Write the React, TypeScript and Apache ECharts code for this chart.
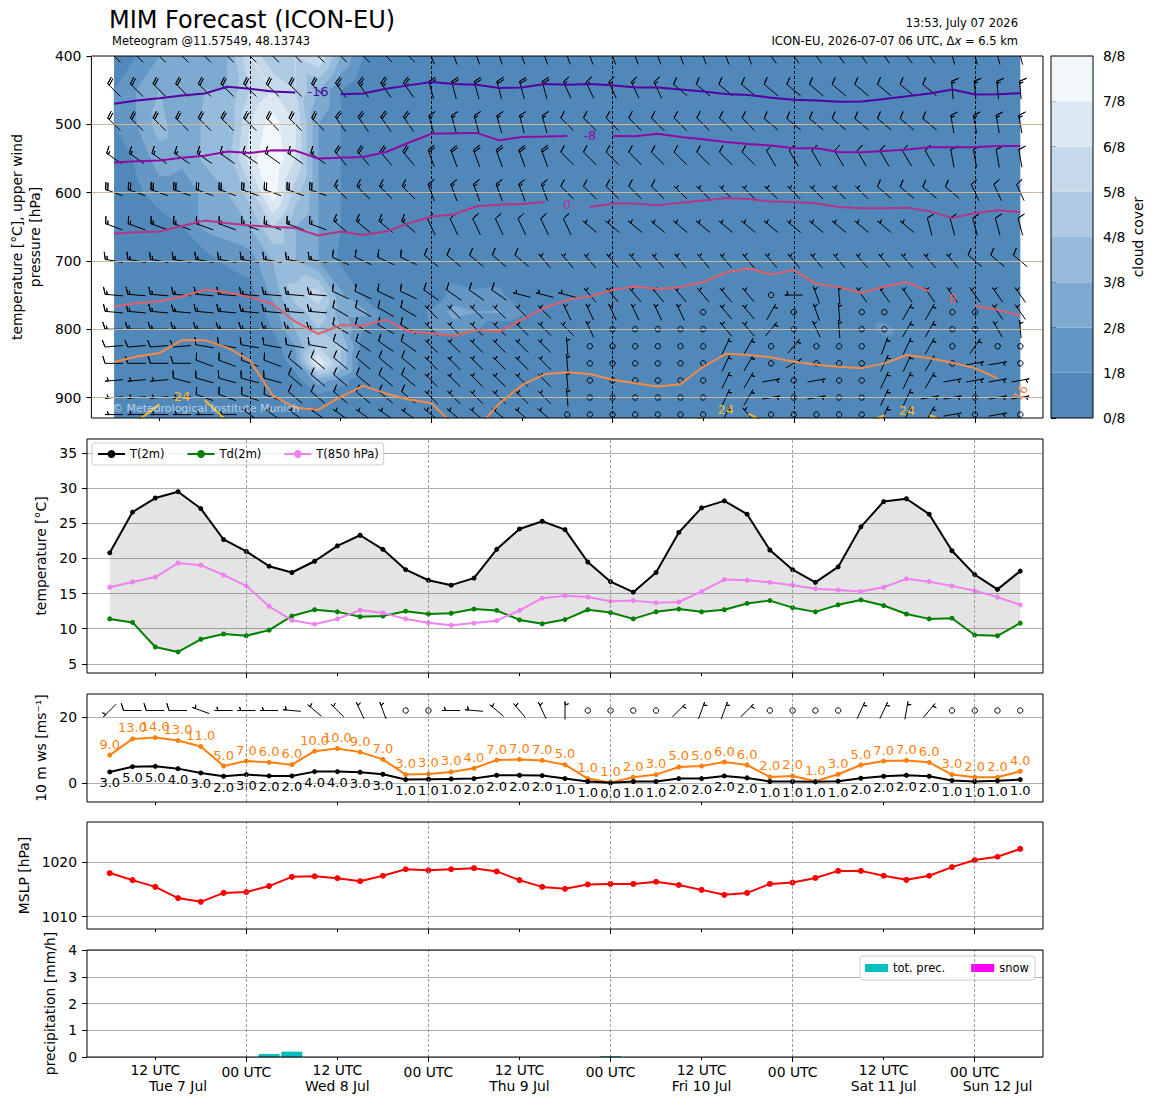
import React, { useEffect, useRef } from 'react';
import * as echarts from 'echarts';

const FONT = 'DejaVu Sans';

// forecast hours since 2026-07-07 00 UTC (3-hourly, 06 UTC Jul 7 .. 06 UTC Jul 12)
const TIMES = [6, 9, 12, 15, 18, 21, 24, 27, 30, 33, 36, 39, 42, 45, 48, 51, 54, 57, 60, 63, 66, 69, 72, 75, 78, 81, 84, 87, 90, 93, 96, 99, 102, 105, 108, 111, 114, 117, 120, 123, 126];
const MIDNIGHT = [24, 48, 72, 96, 120];
const NOON = [12, 36, 60, 84, 108];
const DAY_POS = [15, 36, 60, 84, 108, 123];
const DAY_NAMES = ['Tue 7 Jul', 'Wed 8 Jul', 'Thu 9 Jul', 'Fri 10 Jul', 'Sat 11 Jul', 'Sun 12 Jul'];

const P_TOP = 400;
const P_BOTTOM = 930;
const P_TICKS = [400, 500, 600, 700, 800, 900];
const P_GRID = [500, 600, 700, 800, 900];
const UPPER_LEVELS = [400, 450, 500, 550, 600, 650, 700, 750, 775, 800, 825, 850, 875, 900, 925];

// cloud cover in oktas, one row per level
const CLOUD = [
  [0, 1, 2, 2, 2, 3, 6, 4, 5, 6, 3, 1, 0, 0, 0, 0, 0, 0, 0, 0, 0, 0, 0, 0, 0, 0, 0, 0, 0, 0, 0, 0, 0, 0, 0, 0, 0, 0, 0, 0, 0],
  [1, 2, 3, 2, 3, 3, 5, 6, 5, 3, 1, 0, 0, 0, 0, 0, 0, 0, 0, 0, 0, 0, 0, 0, 0, 0, 0, 0, 0, 0, 0, 0, 0, 0, 0, 0, 0, 0, 0, 0, 0],
  [1, 2, 3.5, 2, 3.2, 3, 6, 7.5, 6, 2, 1, 0, 0, 0, 0, 0, 0, 0, 0, 0, 0, 0, 0, 0, 0, 0, 0, 0, 0, 0, 0, 0, 0, 0, 0, 0, 0, 0, 0, 0, 0],
  [0, 1.2, 2.5, 2.2, 3.2, 3.5, 6.5, 8, 6, 2, 1, 0, 0, 0, 0, 0, 0, 0, 0, 0, 0, 0, 0, 0, 0, 0, 0, 0, 0, 0, 0, 0, 0, 0, 0, 0, 0, 0, 0, 0, 0],
  [0, 0.8, 1.5, 1.5, 2.2, 3, 4.5, 7.6, 4.5, 2, 1, 0, 0, 0, 0, 0, 0, 0, 0, 0, 0, 0, 0, 0, 0, 0, 0, 0, 0, 0, 0, 0, 0, 0, 0, 0, 0, 0, 0, 0, 0],
  [0, 0, 0.5, 1, 2.2, 2.5, 3, 5, 3, 2, 1, 0, 0, 0, 0, 0, 0, 0, 0, 0, 0, 0, 0, 0, 0, 0, 0, 0, 0, 0, 0, 0, 0, 0, 0, 0, 0, 0, 0, 0, 0],
  [0, 0, 0, 0, 0.5, 1.2, 1.5, 3, 3, 2, 0.8, 0, 0, 0, 0, 0, 0, 0, 0, 0, 0, 0, 0, 0, 0, 0, 0, 0, 0, 0, 0, 0, 0, 0, 0, 0, 0, 0, 0, 0, 0],
  [0, 0, 0, 0, 0, 0, 0.5, 2.2, 4.5, 5.5, 2.2, 0.8, 0.3, 0, 0, 1.5, 1.2, 1.3, 0, 0, 0, 0, 0, 0, 0, 0, 0, 0, 0, 0, 0, 0, 0, 0, 0, 0, 0, 0, 0, 0, 0],
  [0, 0, 0, 0, 0, 0, 0, 1.5, 3.5, 4.5, 2.5, 2.3, 0.5, 0, 1.2, 2.3, 2, 2.1, 1.2, 0, 0, 0, 0, 0, 0, 0, 0, 0, 0, 0, 0, 0, 0, 0, 0, 0, 0, 0, 0, 0, 0],
  [0, 0, 0, 0, 0, 0, 0, 1, 3, 4, 3, 1, 0, 0, 1.1, 1.6, 1.1, 0, 0, 0, 0, 0, 0, 0, 0, 0, 0, 0, 0, 0, 0, 0, 0, 0, 1.6, 0, 0, 0, 0, 0, 0],
  [0, 0, 0, 0, 0, 0, 0, 0.5, 2, 5, 4, 0.5, 0, 0, 0, 0, 0, 0, 0, 0, 0, 0, 0, 0, 0, 0, 0, 0, 0, 0, 0, 0, 0, 0, 0, 0, 0, 0, 0, 0, 0],
  [0, 0, 0, 0, 0, 0, 0, 0, 1.5, 7, 4, 0, 0, 0, 0, 0, 0, 0, 0, 0, 0, 0, 0, 0, 0, 0, 0, 0, 0, 0, 0, 0, 0, 0, 0, 0, 0, 0, 0, 0, 0],
  [0, 0, 0, 0, 0, 0, 0, 0, 0.5, 2.5, 1.5, 0, 0, 0, 0, 0, 0, 0, 0, 0, 0, 0, 0, 0, 0, 0, 0, 0, 0, 0, 0, 0, 0, 0, 0, 0, 0, 0, 0, 0, 0],
  [0, 0, 0, 0, 0, 0, 0, 0, 0, 0.5, 0, 0, 0, 0, 0, 0, 0, 0, 0, 0, 0, 0, 0, 0, 0, 0, 0, 0, 0, 0, 0, 0, 0, 0, 0, 0, 0, 0, 0, 0, 0],
  [0, 0, 0, 0, 0, 0, 0, 0, 0, 0, 0, 0, 0, 0, 0, 0, 0, 0, 0, 0, 0, 0, 0, 0, 0, 0, 0, 0, 0, 0, 0, 0, 0, 0, 0, 0, 0, 0, 0, 0, 0],
];

// upper wind direction (deg, from) and speed (kt), one row per level
const UDIR = [
  [315, 315, 315, 315, 315, 315, 315, 315, 315, 315, 315, 315, 315, 315, 340, 340, 340, 340, 340, 340, 340, 340, 340, 340, 340, 340, 340, 340, 340, 325, 325, 325, 325, 325, 325, 325, 325, 345, 345, 345, 345],
  [315, 315, 315, 315, 315, 315, 315, 315, 315, 315, 325, 325, 325, 325, 345, 345, 345, 345, 345, 345, 335, 335, 335, 335, 335, 310, 310, 310, 310, 310, 310, 310, 310, 310, 310, 310, 310, 355, 355, 355, 355],
  [315, 315, 315, 315, 315, 315, 315, 315, 315, 315, 325, 325, 325, 325, 345, 345, 345, 345, 345, 345, 315, 315, 315, 315, 315, 315, 315, 315, 315, 310, 310, 310, 310, 310, 310, 310, 310, 350, 350, 350, 350],
  [305, 305, 305, 305, 305, 305, 305, 305, 305, 305, 320, 320, 320, 320, 340, 340, 340, 340, 340, 340, 315, 315, 315, 315, 315, 315, 315, 315, 315, 330, 330, 330, 330, 330, 330, 330, 330, 350, 350, 350, 350],
  [290, 290, 290, 290, 290, 290, 290, 290, 290, 290, 315, 315, 315, 315, 340, 340, 340, 340, 340, 340, 315, 315, 315, 315, 315, 315, 315, 315, 315, 315, 315, 315, 315, 315, 310, 310, 310, 310, 335, 335, 335],
  [290, 290, 290, 290, 290, 290, 290, 290, 290, 290, 310, 310, 310, 310, 335, 335, 335, 335, 335, 335, 335, 310, 310, 310, 310, 310, 310, 310, 310, 310, 310, 310, 310, 310, 310, 310, 345, 345, 345, 345, 345],
  [280, 280, 280, 280, 280, 280, 280, 280, 280, 280, 295, 295, 295, 295, 310, 310, 310, 310, 310, 320, 320, 320, 320, 320, 320, 320, 320, 320, 320, 320, 320, 320, 320, 320, 320, 320, 320, 320, 310, 310, 310],
  [275, 275, 275, 275, 275, 275, 275, 275, 275, 275, 295, 295, 295, 295, 305, 305, 305, 305, 285, 285, 285, 320, 320, 320, 320, 320, 320, 320, 320, 0, 270, 340, 355, 325, 325, 325, 325, 325, 325, 325, 325],
  [275, 275, 275, 275, 275, 275, 275, 275, 275, 275, 300, 300, 300, 300, 315, 315, 315, 315, 315, 315, 335, 335, 335, 335, 335, 335, 0, 320, 320, 30, 0, 340, 355, 0, 0, 30, 30, 0, 0, 325, 325],
  [270, 270, 270, 270, 270, 270, 270, 270, 270, 270, 300, 300, 300, 300, 315, 315, 315, 315, 315, 315, 315, 335, 0, 0, 0, 0, 0, 320, 320, 40, 0, 335, 355, 0, 0, 30, 30, 0, 0, 330, 355],
  [265, 265, 265, 265, 280, 280, 280, 280, 280, 280, 305, 305, 305, 305, 315, 315, 315, 315, 315, 315, 355, 0, 0, 0, 0, 0, 0, 25, 30, 0, 40, 0, 0, 0, 20, 25, 30, 0, 35, 0, 0],
  [270, 270, 270, 270, 290, 290, 290, 290, 310, 310, 310, 310, 310, 310, 315, 315, 315, 315, 315, 315, 355, 0, 0, 0, 0, 0, 0, 25, 30, 0, 60, 0, 0, 0, 25, 25, 30, 0, 80, 80, 0],
  [265, 265, 265, 285, 285, 285, 285, 285, 310, 310, 310, 310, 310, 310, 315, 315, 315, 315, 315, 315, 355, 0, 0, 0, 0, 0, 0, 25, 30, 80, 0, 80, 0, 0, 25, 25, 30, 80, 80, 80, 80],
  [265, 265, 265, 265, 290, 290, 290, 290, 310, 310, 310, 310, 310, 310, 315, 315, 315, 315, 315, 315, 355, 0, 0, 0, 0, 0, 0, 25, 30, 80, 0, 80, 0, 0, 25, 25, 80, 80, 0, 80, 80],
  [270, 270, 270, 270, 270, 270, 305, 305, 305, 305, 305, 305, 305, 305, 310, 310, 310, 310, 310, 310, 0, 0, 0, 0, 0, 0, 0, 25, 320, 0, 0, 0, 0, 0, 25, 25, 30, 80, 0, 80, 0],
];
const USPD = [
  [20, 20, 20, 20, 20, 20, 20, 20, 20, 20, 20, 20, 20, 20, 20, 20, 20, 20, 20, 20, 15, 15, 15, 15, 15, 15, 15, 15, 15, 15, 15, 15, 15, 15, 15, 15, 15, 15, 15, 15, 15],
  [20, 20, 20, 20, 20, 20, 20, 20, 20, 20, 25, 25, 25, 25, 20, 20, 20, 20, 20, 20, 15, 15, 15, 15, 15, 10, 10, 10, 10, 10, 10, 10, 10, 10, 10, 10, 10, 15, 15, 15, 15],
  [20, 20, 20, 20, 20, 20, 20, 20, 20, 20, 20, 20, 20, 20, 15, 15, 15, 15, 15, 15, 10, 10, 10, 10, 10, 10, 10, 10, 10, 10, 10, 10, 10, 10, 10, 10, 10, 15, 15, 15, 15],
  [15, 15, 15, 15, 15, 15, 15, 15, 15, 15, 20, 20, 20, 20, 20, 20, 20, 20, 20, 20, 10, 10, 10, 10, 10, 10, 10, 10, 10, 10, 10, 10, 10, 10, 10, 10, 10, 10, 10, 10, 10],
  [20, 20, 20, 20, 20, 20, 20, 20, 20, 20, 15, 15, 15, 15, 15, 15, 15, 15, 15, 15, 10, 10, 10, 10, 10, 5, 5, 5, 5, 5, 5, 5, 5, 5, 10, 10, 10, 10, 10, 10, 10],
  [15, 15, 15, 15, 15, 15, 15, 15, 15, 15, 15, 15, 15, 15, 10, 10, 10, 10, 10, 10, 10, 5, 5, 5, 5, 5, 5, 5, 5, 5, 5, 5, 5, 5, 5, 5, 10, 10, 10, 10, 10],
  [15, 15, 15, 15, 15, 15, 15, 15, 15, 15, 10, 10, 10, 10, 10, 10, 10, 10, 10, 5, 5, 5, 5, 5, 5, 5, 5, 5, 5, 5, 5, 5, 5, 5, 5, 5, 5, 5, 10, 10, 10],
  [15, 15, 15, 15, 15, 15, 15, 15, 15, 15, 10, 10, 10, 10, 10, 10, 10, 10, 5, 5, 5, 5, 5, 5, 5, 5, 5, 5, 5, 0, 5, 5, 5, 5, 5, 5, 5, 5, 5, 5, 5],
  [15, 15, 15, 15, 15, 15, 15, 15, 15, 15, 10, 10, 10, 10, 5, 5, 5, 5, 5, 5, 5, 5, 5, 5, 5, 5, 0, 5, 5, 5, 0, 5, 5, 0, 0, 5, 5, 0, 0, 5, 5],
  [15, 15, 15, 15, 15, 15, 15, 15, 15, 15, 10, 10, 10, 10, 5, 5, 5, 5, 5, 5, 5, 5, 0, 0, 0, 0, 0, 5, 5, 5, 0, 5, 5, 0, 0, 5, 5, 0, 0, 5, 5],
  [10, 10, 10, 10, 10, 10, 10, 10, 10, 10, 10, 10, 10, 10, 5, 5, 5, 5, 5, 5, 5, 0, 0, 0, 0, 0, 0, 5, 5, 0, 5, 0, 0, 0, 5, 5, 5, 0, 5, 0, 0],
  [10, 10, 10, 10, 10, 10, 10, 10, 10, 10, 10, 10, 10, 10, 5, 5, 5, 5, 5, 5, 5, 0, 0, 0, 0, 0, 0, 5, 5, 0, 5, 0, 0, 0, 5, 5, 5, 0, 5, 5, 0],
  [5, 5, 5, 10, 10, 10, 10, 10, 10, 10, 10, 10, 10, 10, 5, 5, 5, 5, 5, 5, 5, 0, 0, 0, 0, 0, 0, 5, 5, 5, 0, 5, 0, 0, 5, 5, 5, 5, 5, 5, 5],
  [5, 5, 5, 5, 10, 10, 10, 10, 10, 10, 10, 10, 10, 10, 5, 5, 5, 5, 5, 5, 5, 0, 0, 0, 0, 0, 0, 5, 5, 5, 0, 5, 0, 0, 5, 5, 5, 5, 0, 5, 5],
  [5, 5, 5, 5, 5, 5, 5, 5, 5, 5, 5, 5, 5, 5, 5, 5, 5, 5, 5, 5, 0, 0, 0, 0, 0, 0, 0, 5, 5, 0, 0, 0, 0, 0, 5, 5, 5, 5, 0, 5, 0],
];

// isotherms: pressure (hPa) at each time, null = gap / out of view
const ISO_M16 = [470, 465, 462, 458, 455, 445, 448, 452, 453.5, null, 456, 455, 448, 443, 438, 441, 442, 447, 446, 441, 442, 441, 443, 446, 446, 449, 452, 455.5, 457, 461, 464, 465, 467, 466.7, 462.8, 459, 455, 449, 456.5, 456, 454.5];
const ISO_M8 = [556, 554, 553, 549, 546, 540, 542, 538, 538.5, 550, 549, 548, 540.5, 527, 514, 513, 512.6, 523.5, 518.5, 518, 517, null, 517, 517.5, 514, 518.5, 522, 526, 529, 531, 535, 535, 540.5, 541, 539, 537, 533.7, 533.7, 533.7, 531.7, 531.7];
const ISO_0 = [660, 658, 657, 649, 641, 645, 648, 650, 652, 662.7, 657, 662, 657, 645, 635, 632, 620, 617.7, 616.7, 613.8, null, 621, 616, 616, 618.7, 615, 611.4, 608, 609.4, 613, 613.8, 616, 621, 623, 623, 622, 627.5, 637, 630, 626, 628.5];
const ISO_8 = [766.7, 762, 759, 752, 742.4, 745.8, 753, 763, 789, 807, 794, 795, 786, 803.5, 806, 810, 801, 803.5, 786, 769, 757, 752, 742.4, 737.5, 741, 738.4, 731, 717, 711, 720, 713.5, 733.6, 738.4, 747, 737.5, 731, 745, null, 766, 771.7, 780];
const ISO_16 = [848, 840, 835, 816, 816, 827, 846, 897, 915, 918, 899, 883, 894, 903, 908, 940, 945, 909, 882, 866, 863, 865.5, 874, 879, 884, 880.6, 855, 836, 837.7, 841, 847.5, 852, 855, 857, 850, 837.7, 842.5, 849, 857, 872, null];
const ISO_24 = [null, 935, 910, null, 904, 935, null, null, null, null, null, null, null, null, null, null, null, null, null, null, null, null, null, null, null, 940, 930, null, 924, 940, null, null, null, 940, 926, null, 926, 940, null, null, null];
const ISO_LINES = [ISO_M16, ISO_M8, ISO_0, ISO_8, ISO_16, ISO_24];
const ISO_COLORS = ['#5402a3', '#8e0ca4', '#b83289', '#e0606a', '#f48a49', '#fbb62e'];
const ISO_LABEL_POS = [[33, 452], [69, 517], [66, 617], [117, 755], [126, 893], [15, 899], [87, 918], [111, 919]];
const ISO_LABEL_TEXT = ['-16', '-8', '0', '8', '16', '24', '24', '24'];
const ISO_LABEL_COLOR = [0, 1, 2, 3, 4, 5, 5, 5];
const ISO_LABEL_ROT = [0, 0, 0, 0, 1.0, 0, 0, 0];

const CC_LEVELS = [0, 1, 2, 3, 4, 5, 6, 7];
const CC_COLORS = ['#5088ba', '#6597c5', '#7eaad1', '#97bbdb', '#aecae3', '#c5d9eb', '#dce8f3', '#f2f7fb'];

// surface
const T2M = [20.8, 26.6, 28.6, 29.5, 27.1, 22.7, 21.0, 18.9, 18.0, 19.6, 21.8, 23.3, 21.3, 18.4, 16.9, 16.2, 17.2, 21.3, 24.2, 25.3, 24.1, 19.5, 16.7, 15.2, 18.0, 23.7, 27.2, 28.2, 26.3, 21.2, 18.4, 16.6, 18.8, 24.5, 28.1, 28.5, 26.3, 21.1, 17.7, 15.6, 18.2];
const TD2M = [11.4, 10.9, 7.4, 6.7, 8.5, 9.25, 9.0, 9.8, 11.8, 12.7, 12.4, 11.7, 11.8, 12.5, 12.1, 12.2, 12.8, 12.6, 11.25, 10.7, 11.3, 12.7, 12.3, 11.4, 12.4, 12.8, 12.4, 12.7, 13.6, 14.0, 13.0, 12.4, 13.4, 14.1, 13.3, 12.1, 11.4, 11.5, 9.1, 9.0, 10.8];
const T850 = [15.9, 16.65, 17.35, 19.35, 19.05, 17.65, 16.1, 13.2, 11.2, 10.65, 11.4, 12.65, 12.25, 11.4, 10.85, 10.5, 10.8, 11.15, 12.6, 14.35, 14.7, 14.5, 13.9, 14.0, 13.7, 13.8, 15.3, 17.0, 16.9, 16.6, 16.2, 15.7, 15.5, 15.3, 15.9, 17.1, 16.7, 16.1, 15.4, 14.5, 13.4];

const WS = [3.4, 5.0, 5.1, 4.4, 3.1, 2.1, 2.6, 2.2, 2.2, 3.5, 3.5, 3.3, 2.7, 1.1, 1.2, 1.3, 1.4, 2.4, 2.4, 2.3, 1.4, 0.5, 0.1, 0.5, 0.5, 1.4, 1.4, 2.2, 1.6, 0.5, 0.5, 0.4, 0.6, 1.5, 2.1, 2.4, 2.1, 0.8, 0.5, 0.7, 1.1];
const WS_LABEL = [3, 5, 5, 4, 3, 2, 3, 2, 2, 4, 4, 3, 3, 1, 1, 1, 2, 2, 2, 2, 1, 1, 0, 1, 1, 2, 2, 2, 2, 1, 1, 1, 1, 2, 2, 2, 2, 1, 1, 1, 1];
const GUST = [8.5, 13.4, 13.8, 12.9, 11.1, 5.2, 6.7, 6.3, 5.6, 9.7, 10.5, 9.4, 7.2, 2.6, 2.8, 3.4, 4.5, 7.0, 7.2, 6.9, 5.6, 1.4, 0.2, 1.8, 2.6, 4.9, 5.2, 6.4, 5.5, 1.9, 2.2, 0.6, 2.7, 5.5, 6.7, 6.9, 6.3, 2.6, 1.8, 1.8, 3.6];
const GUST_LABEL = [9, 13, 14, 13, 11, 5, 7, 6, 6, 10, 10, 9, 7, 3, 3, 3, 4, 7, 7, 7, 5, 1, 1, 2, 3, 5, 5, 6, 6, 2, 2, 1, 3, 5, 7, 7, 6, 3, 2, 2, 4];
const SURF_BARB_Y = 22;
const SDIR = [225, 270, 270, 270, 290, 270, 270, 270, 275, 310, 315, 335, 340, 0, 0, 270, 275, 310, 320, 335, 360, 0, 0, 0, 0, 45, 20, 20, 45, 0, 0, 0, 0, 25, 25, 10, 40, 0, 0, 0, 0];
const SSPD = [5, 10, 10, 10, 5, 5, 5, 5, 5, 5, 5, 5, 5, 0, 0, 5, 5, 5, 5, 5, 5, 0, 0, 0, 0, 5, 5, 5, 5, 0, 0, 0, 0, 5, 5, 5, 5, 0, 0, 0, 0];

const MSLP = [1018.0, 1016.7, 1015.45, 1013.4, 1012.7, 1014.35, 1014.5, 1015.6, 1017.3, 1017.4, 1017.05, 1016.5, 1017.5, 1018.7, 1018.5, 1018.7, 1018.9, 1018.3, 1016.7, 1015.45, 1015.1, 1015.9, 1016.0, 1016.0, 1016.4, 1015.8, 1014.9, 1014.0, 1014.35, 1016.0, 1016.25, 1017.1, 1018.4, 1018.4, 1017.5, 1016.75, 1017.5, 1019.1, 1020.4, 1021.0, 1022.45];
const PRECIP = [0, 0, 0, 0, 0, 0, 0, 0.11, 0.2, 0, 0, 0, 0, 0, 0, 0, 0, 0, 0, 0, 0, 0, 0.03, 0, 0, 0, 0, 0, 0, 0, 0, 0, 0, 0, 0, 0, 0, 0, 0, 0, 0];
const SNOW = [0, 0, 0, 0, 0, 0, 0, 0, 0, 0, 0, 0, 0, 0, 0, 0, 0, 0, 0, 0, 0, 0, 0, 0, 0, 0, 0, 0, 0, 0, 0, 0, 0, 0, 0, 0, 0, 0, 0, 0, 0];

const BARB_L = 18;

function barbElements(cx: number, cy: number, dir: number, spd: number, L: number) {
  if (spd < 2.5) {
    return [{ type: 'circle', shape: { cx, cy, r: 0.15 * L }, style: { fill: 'none', stroke: '#000', lineWidth: 1 } }];
  }
  const th = (dir * Math.PI) / 180;
  const ux = Math.sin(th), uy = -Math.cos(th);
  const rx = Math.cos(th), ry = Math.sin(th);
  const H = 0.4 * L, W = 0.25 * L, S = 0.125 * L;
  const P = (d: number, h: number) => [cx + ux * d + rx * h, cy + uy * d + ry * h];
  let mag = 5 * Math.round(spd / 5);
  const nFlag = Math.floor(mag / 50); mag -= 50 * nFlag;
  const nBarb = Math.floor(mag / 10); mag -= 10 * nBarb;
  const half = mag >= 5;
  const pts: number[][] = [P(-L / 2, 0)];
  const flags: number[][][] = [];
  let off = L;
  for (let k = 0; k < nFlag; k++) {
    if (off !== L) off += S / 2;
    const d = -L / 2 + off;
    pts.push(P(d, 0));
    flags.push([P(d, 0), P(d - W / 2, H), P(d - W, 0)]);
    pts.push(P(d - W, 0));
    off -= W + S;
  }
  for (let k = 0; k < nBarb; k++) {
    const d = -L / 2 + off;
    pts.push(P(d, 0), P(d + W / 2, H), P(d, 0));
    off -= S;
  }
  if (half) {
    if (off === L) { pts.push(P(L / 2, 0)); off -= 1.5 * S; }
    const d = -L / 2 + off;
    pts.push(P(d, 0), P(d + W / 4, H / 2), P(d, 0));
  }
  const els: any[] = [{ type: 'polyline', shape: { points: pts }, style: { stroke: '#000', fill: 'none', lineWidth: 1 } }];
  flags.forEach((f) => els.push({ type: 'polygon', shape: { points: f }, style: { fill: '#000', stroke: '#000', lineWidth: 1 } }));
  return els;
}

function clipPoly(poly: number[][], thr: number, above: boolean) {
  const out: number[][] = [];
  const n = poly.length;
  for (let k = 0; k < n; k++) {
    const a = poly[k], b = poly[(k + 1) % n];
    const ia = above ? a[2] >= thr : a[2] <= thr;
    const ib = above ? b[2] >= thr : b[2] <= thr;
    if (ia) out.push(a);
    if (ia !== ib) {
      const t = (thr - a[2]) / (b[2] - a[2]);
      out.push([a[0] + t * (b[0] - a[0]), a[1] + t * (b[1] - a[1]), thr]);
    }
  }
  return out;
}

function buildOption() {
  const txt = { fontFamily: FONT, color: '#000' };
  const plain = (v: number) => String(v);
  const grids = [
    { left: 87, top: 56, width: 956, height: 362 },
    { left: 87, top: 439, width: 956, height: 234 },
    { left: 87, top: 694, width: 956, height: 108 },
    { left: 87, top: 822, width: 956, height: 107 },
    { left: 87, top: 950, width: 956, height: 107 },
    { left: 1051, top: 56, width: 42, height: 362 },
  ].map((g) => ({ ...g, show: true, borderColor: '#000', borderWidth: 1, backgroundColor: 'transparent', z: 20 }));

  const xAxes: any[] = [];
  for (let g = 0; g < 5; g++) {
    const bottom = g === 4;
    xAxes.push({
      type: 'value', gridIndex: g, min: 3, max: 129, position: 'bottom',
      axisLine: { show: false }, splitLine: { show: false },
      axisTick: { show: true, customValues: MIDNIGHT, length: 5, lineStyle: { color: '#000', width: 1 } },
      axisLabel: { show: bottom, customValues: MIDNIGHT, formatter: () => '00 UTC', margin: 8, fontSize: 13.9, ...txt },
    });
    xAxes.push({
      type: 'value', gridIndex: g, min: 3, max: 129, position: 'bottom',
      axisLine: { show: false }, splitLine: { show: false },
      axisTick: { show: true, customValues: NOON, length: 3, lineStyle: { color: '#000', width: 1 } },
      axisLabel: { show: bottom, customValues: NOON, formatter: () => '12 UTC', margin: 6, fontSize: 13.9, ...txt },
    });
  }
  xAxes.push({
    type: 'value', gridIndex: 4, min: 3, max: 129, position: 'bottom',
    axisLine: { show: false }, splitLine: { show: false }, axisTick: { show: false },
    axisLabel: { show: true, customValues: DAY_POS, formatter: (v: number) => DAY_NAMES[DAY_POS.indexOf(v)] || '', margin: 22, fontSize: 13.9, ...txt },
  });
  xAxes.push({ type: 'value', gridIndex: 5, min: 0, max: 1, show: false });

  const yCommon = (g: number) => ({
    type: 'value', gridIndex: g,
    axisLine: { show: false },
    axisTick: { show: true, length: 5, lineStyle: { color: '#000' } },
    axisLabel: { fontSize: 13.9, margin: 10, formatter: plain, ...txt },
    splitLine: { show: true, lineStyle: { color: '#b0b0b0', width: 1 } },
    nameLocation: 'middle', nameRotate: 90,
    nameTextStyle: { fontSize: 13.9, ...txt },
  });
  const yAxes: any[] = [
    {
      ...yCommon(0), inverse: true, min: P_TOP, max: P_BOTTOM, interval: 100,
      axisTick: { show: true, length: 5, customValues: P_TICKS, lineStyle: { color: '#000' } },
      axisLabel: { fontSize: 13.9, margin: 10, customValues: P_TICKS, formatter: plain, ...txt },
      splitLine: { show: false },
      name: 'temperature [°C], upper wind\npressure [hPa]', nameGap: 42,
      nameTextStyle: { fontSize: 13.9, lineHeight: 18, ...txt },
    },
    {
      ...yCommon(1), min: 3.7, max: 37, splitNumber: 7,
      axisTick: { show: true, length: 5, customValues: [5, 10, 15, 20, 25, 30, 35], lineStyle: { color: '#000' } },
      axisLabel: { fontSize: 13.9, margin: 10, customValues: [5, 10, 15, 20, 25, 30, 35], formatter: plain, ...txt },
      name: 'temperature [°C]', nameGap: 35,
    },
    {
      ...yCommon(2), min: -5.7, max: 27, splitNumber: 2,
      axisTick: { show: true, length: 5, customValues: [0, 20], lineStyle: { color: '#000' } },
      axisLabel: { fontSize: 13.9, margin: 10, customValues: [0, 20], formatter: plain, ...txt },
      name: '10 m ws [ms⁻¹]', nameGap: 35,
    },
    {
      ...yCommon(3), min: 1007.7, max: 1027.4, splitNumber: 2,
      axisTick: { show: true, length: 5, customValues: [1010, 1020], lineStyle: { color: '#000' } },
      axisLabel: { fontSize: 13.9, margin: 10, customValues: [1010, 1020], formatter: plain, ...txt },
      name: 'MSLP [hPa]', nameGap: 43,
    },
    {
      ...yCommon(4), min: 0, max: 4, interval: 1,
      name: 'precipitation [mm/h]', nameGap: 22.5,
    },
    {
      type: 'value', gridIndex: 5, position: 'right', min: 0, max: 8, interval: 1,
      axisLine: { show: false }, splitLine: { show: false },
      axisTick: { show: true, length: 5, lineStyle: { color: '#000' } },
      axisLabel: { fontSize: 13.9, margin: 10, formatter: (v: number) => `${v}/8`, ...txt },
      name: 'cloud cover', nameLocation: 'middle', nameRotate: 90, nameGap: 38,
      nameTextStyle: { fontSize: 13.9, ...txt },
    },
  ];

  const vLines = (g: number, color: string, width: number, z: number) => ({
    type: 'line', name: 'vl' + g, xAxisIndex: 2 * g, yAxisIndex: g, data: [[TIMES[0], null]], symbol: 'none', z, silent: true,
    markLine: {
      silent: true, symbol: ['none', 'none'], label: { show: false },
      lineStyle: { color, width, type: [3, 2] }, emphasis: { disabled: true },
      data: MIDNIGHT.map((v) => ({ xAxis: v })),
    },
  });

  const upperBarbData: number[][] = [];
  UPPER_LEVELS.forEach((p, j) => TIMES.forEach((h, i) => upperBarbData.push([h, p, UDIR[j][i], USPD[j][i]])));
  const surfBarbData = TIMES.map((h, i) => [h, SURF_BARB_Y, SDIR[i], SSPD[i]]);

  const barbRender = (params: any, api: any) => {
    const c = api.coord([api.value(0), api.value(1)]);
    return { type: 'group', children: barbElements(c[0], c[1], api.value(2), api.value(3), BARB_L) };
  };

  const series: any[] = [
    // ---- top panel
    {
      type: 'custom', name: 'cloudbg', xAxisIndex: 0, yAxisIndex: 0, z: 1, silent: true, clip: true,
      data: [[TIMES[0], TIMES[TIMES.length - 1]]],
      renderItem: (params: any, api: any) => {
        const a = api.coord([api.value(0), P_TOP]);
        const b = api.coord([api.value(1), P_BOTTOM]);
        return { type: 'rect', shape: { x: a[0], y: a[1], width: b[0] - a[0], height: b[1] - a[1] }, style: { fill: CC_COLORS[0] } };
      },
    },
    {
      type: 'custom', name: 'cloud', xAxisIndex: 0, yAxisIndex: 0, z: 1, silent: true, clip: true,
      data: [[TIMES[0], P_TOP]],
      renderItem: (params: any, api: any) => {
        const tris: number[][][] = [];
        for (let j = 0; j < UPPER_LEVELS.length - 1; j++) {
          for (let i = 0; i < TIMES.length - 1; i++) {
            const v = [CLOUD[j][i], CLOUD[j][i + 1], CLOUD[j + 1][i + 1], CLOUD[j + 1][i]];
            if (Math.max(...v) < 1) continue;
            const c = [
              api.coord([TIMES[i], UPPER_LEVELS[j]]), api.coord([TIMES[i + 1], UPPER_LEVELS[j]]),
              api.coord([TIMES[i + 1], UPPER_LEVELS[j + 1]]), api.coord([TIMES[i], UPPER_LEVELS[j + 1]]),
            ];
            const p = c.map((q: number[], n: number) => [q[0], q[1], v[n]]);
            tris.push([p[0], p[1], p[2]], [p[0], p[2], p[3]]);
          }
        }
        const children: any[] = [];
        for (let k = 1; k <= 7; k++) {
          for (const tri of tris) {
            const poly = clipPoly(tri, k, true);
            if (poly.length >= 3) {
              children.push({ type: 'polygon', shape: { points: poly.map((q) => [q[0], q[1]]) }, style: { fill: CC_COLORS[k], stroke: CC_COLORS[k], lineWidth: 0.5 } });
            }
          }
        }
        return { type: 'group', children };
      },
    },
    {
      type: 'line', name: 'pgrid', xAxisIndex: 0, yAxisIndex: 0, data: [[TIMES[0], null]], symbol: 'none', z: 3, silent: true,
      markLine: {
        silent: true, symbol: ['none', 'none'], label: { show: false },
        lineStyle: { color: '#cbb99b', width: 1, type: 'solid' }, emphasis: { disabled: true },
        data: P_GRID.map((v) => ({ yAxis: v })),
      },
    },
    {
      type: 'custom', name: 'upperbarbs', xAxisIndex: 0, yAxisIndex: 0, z: 4, silent: true, clip: true,
      data: upperBarbData, renderItem: barbRender,
    },
    ...ISO_LINES.map((arr, k) => ({
      type: 'line', name: 'iso' + k, xAxisIndex: 0, yAxisIndex: 0, z: 5, silent: true, clip: true,
      symbol: 'none', connectNulls: false,
      lineStyle: { color: ISO_COLORS[k], width: 2 },
      data: TIMES.map((h, i) => [h, arr[i]]),
    })),
    {
      type: 'custom', name: 'isolabels', xAxisIndex: 0, yAxisIndex: 0, z: 6, silent: true,
      data: ISO_LABEL_POS.map((p, k) => [p[0], p[1], k]),
      renderItem: (params: any, api: any) => {
        const k = api.value(2);
        const c = api.coord([api.value(0), api.value(1)]);
        return {
          type: 'text', x: c[0], y: c[1], rotation: ISO_LABEL_ROT[k],
          style: { text: ISO_LABEL_TEXT[k], fill: ISO_COLORS[ISO_LABEL_COLOR[k]], fontSize: 13, fontFamily: FONT, align: 'center', verticalAlign: 'middle' },
        };
      },
    },
    vLines(0, '#000', 1, 5),
    // ---- temperature panel
    vLines(1, '#888', 0.8, 1),
    {
      type: 'custom', name: 'tfill', xAxisIndex: 2, yAxisIndex: 1, z: 1, silent: true,
      data: [[TIMES[0], T2M[0]]],
      renderItem: (params: any, api: any) => {
        const pts: number[][] = [];
        TIMES.forEach((h, i) => pts.push(api.coord([h, T2M[i]])));
        for (let i = TIMES.length - 1; i >= 0; i--) pts.push(api.coord([TIMES[i], TD2M[i]]));
        return { type: 'polygon', shape: { points: pts }, style: { fill: 'rgba(0,0,0,0.105)' } };
      },
    },
    {
      type: 'line', name: 'T(2m)', xAxisIndex: 2, yAxisIndex: 1, z: 4, symbol: 'circle', symbolSize: 5,
      itemStyle: { color: '#000' }, lineStyle: { color: '#000', width: 2 },
      data: TIMES.map((h, i) => [h, T2M[i]]),
    },
    {
      type: 'line', name: 'Td(2m)', xAxisIndex: 2, yAxisIndex: 1, z: 3, symbol: 'circle', symbolSize: 5,
      itemStyle: { color: '#008000' }, lineStyle: { color: '#008000', width: 2 },
      data: TIMES.map((h, i) => [h, TD2M[i]]),
    },
    {
      type: 'line', name: 'T(850 hPa)', xAxisIndex: 2, yAxisIndex: 1, z: 3, symbol: 'circle', symbolSize: 5,
      itemStyle: { color: '#ee82ee' }, lineStyle: { color: '#ee82ee', width: 2 },
      data: TIMES.map((h, i) => [h, T850[i]]),
    },
    // ---- wind panel
    vLines(2, '#888', 0.8, 1),
    {
      type: 'line', name: 'gust', xAxisIndex: 4, yAxisIndex: 2, z: 3, symbol: 'circle', symbolSize: 5,
      itemStyle: { color: '#ff7f0e' }, lineStyle: { color: '#ff7f0e', width: 2 },
      label: { show: true, position: 'top', distance: 2, color: '#ff7f0e', fontSize: 13, fontFamily: FONT, formatter: (p: any) => GUST_LABEL[p.dataIndex].toFixed(1) },
      data: TIMES.map((h, i) => [h, GUST[i]]),
    },
    {
      type: 'line', name: 'ws', xAxisIndex: 4, yAxisIndex: 2, z: 3, symbol: 'circle', symbolSize: 5,
      itemStyle: { color: '#000' }, lineStyle: { color: '#000', width: 2 },
      label: { show: true, position: 'bottom', distance: 2, color: '#000', fontSize: 13, fontFamily: FONT, formatter: (p: any) => WS_LABEL[p.dataIndex].toFixed(1) },
      data: TIMES.map((h, i) => [h, WS[i]]),
    },
    {
      type: 'custom', name: 'surfbarbs', xAxisIndex: 4, yAxisIndex: 2, z: 4, silent: true, clip: true,
      data: surfBarbData, renderItem: barbRender,
    },
    // ---- MSLP
    vLines(3, '#888', 0.8, 1),
    {
      type: 'line', name: 'mslp', xAxisIndex: 6, yAxisIndex: 3, z: 3, symbol: 'circle', symbolSize: 6,
      itemStyle: { color: '#ff0000' }, lineStyle: { color: '#ff0000', width: 2 },
      data: TIMES.map((h, i) => [h, MSLP[i]]),
    },
    // ---- precipitation
    vLines(4, '#888', 0.8, 1),
    {
      type: 'bar', name: 'tot. prec.', xAxisIndex: 8, yAxisIndex: 4, z: 3, barWidth: 21,
      itemStyle: { color: '#00bfbf' },
      data: TIMES.map((h, i) => [h, PRECIP[i]]),
    },
    {
      type: 'bar', name: 'snow', xAxisIndex: 8, yAxisIndex: 4, z: 3, barWidth: 21, barGap: '-100%',
      itemStyle: { color: '#ff00ff' },
      data: TIMES.map((h, i) => [h, SNOW[i]]),
    },
    // ---- colorbar
    {
      type: 'custom', name: 'colorbar', xAxisIndex: 11, yAxisIndex: 5, z: 2, silent: true,
      data: CC_LEVELS.map((k) => [0.5, k]),
      renderItem: (params: any, api: any) => {
        const k = api.value(1);
        const a = api.coord([0, k]);
        const b = api.coord([1, k + 1]);
        return { type: 'rect', shape: { x: a[0], y: b[1], width: b[0] - a[0], height: a[1] - b[1] }, style: { fill: CC_COLORS[k] } };
      },
    },
  ];

  return {
    animation: false,
    backgroundColor: '#fff',
    textStyle: { fontFamily: FONT },
    title: [
      { text: 'MIM Forecast (ICON-EU)', left: 109, top: 8, padding: 0, textStyle: { fontSize: 24, fontWeight: 'normal', ...txt } },
      { text: 'Meteogram @11.57549, 48.13743', left: 112, top: 35, padding: 0, textStyle: { fontSize: 11.5, fontWeight: 'normal', ...txt } },
      { text: '13:53, July 07 2026', right: 137, top: 17, padding: 0, textStyle: { fontSize: 11.5, fontWeight: 'normal', ...txt } },
      {
        text: 'ICON-EU, 2026-07-07 06 UTC, Δ{i|x} = 6.5 km', right: 137, top: 35, padding: 0,
        textStyle: { fontSize: 11.5, fontWeight: 'normal', ...txt, rich: { i: { fontSize: 11.5, fontStyle: 'italic', fontFamily: FONT, color: '#000' } } },
      },
    ],
    legend: [
      {
        left: 92, top: 443, orient: 'horizontal', padding: [5, 5, 5, 5], itemGap: 22, itemWidth: 27, itemHeight: 10,
        borderColor: '#cccccc', borderWidth: 1, borderRadius: 3, backgroundColor: 'rgba(255,255,255,0.8)',
        textStyle: { fontSize: 11.5, ...txt }, selectedMode: false,
        data: [{ name: 'T(2m)' }, { name: 'Td(2m)', textStyle: { width: 48 } }, { name: 'T(850 hPa)' }],
      },
      {
        left: 860, top: 956, orient: 'horizontal', padding: [6, 6, 6, 5], itemGap: 26, itemWidth: 23, itemHeight: 8, icon: 'rect',
        borderColor: '#cccccc', borderWidth: 1, borderRadius: 3, backgroundColor: 'rgba(255,255,255,0.8)',
        textStyle: { fontSize: 11.5, ...txt }, selectedMode: false,
        data: ['tot. prec.', 'snow'],
      },
    ],
    grid: grids,
    xAxis: xAxes,
    yAxis: yAxes,
    series,
    graphic: [
      {
        type: 'text', left: 112, top: 403, z: 100, silent: true,
        style: { text: '© Meteorological Institute Munich', fill: 'rgba(255,255,255,0.6)', fontSize: 11, fontFamily: FONT },
      },
    ],
  };
}

export default function App() {
  const ref = useRef<HTMLDivElement>(null);
  useEffect(() => {
    if (!ref.current) return;
    const chart = echarts.init(ref.current, null, { renderer: 'svg' });
    chart.setOption(buildOption() as any);
    return () => chart.dispose();
  }, []);
  return <div ref={ref} style={{ position: 'absolute', left: 0, top: 0, width: 1155, height: 1105, background: '#fff' }} />;
}
